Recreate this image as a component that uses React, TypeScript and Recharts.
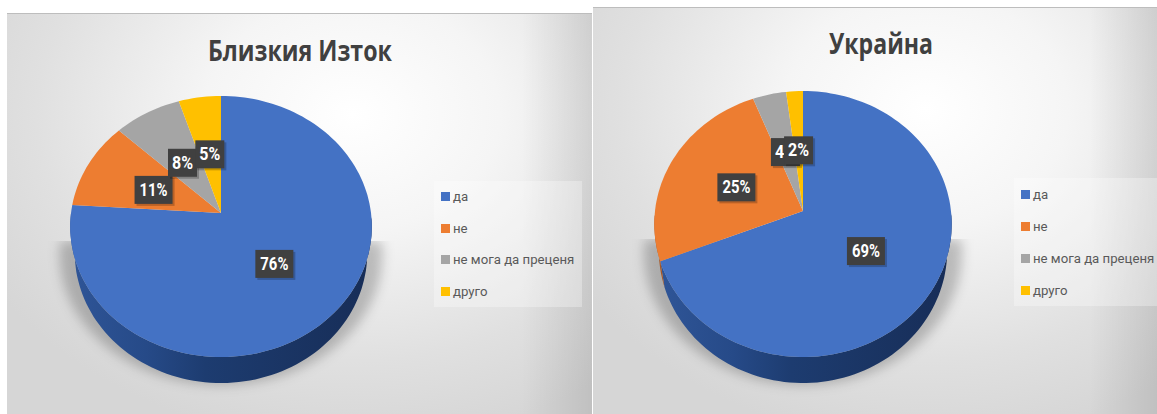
import { Legend, Pie, PieChart } from 'recharts';

const CATEGORIES = ['да', 'не', 'не мога да преценя', 'друго'];
const COLORS = ['#4472c4', '#ed7d31', '#a5a5a5', '#ffc000'];
const MIDDLE_EAST_TITLE = 'Близкия Изток';
const MIDDLE_EAST_VALUES = [76, 11, 8, 5];
const UKRAINE_TITLE = 'Украйна';
const UKRAINE_VALUES = [69, 25, 4, 2];

const TITLE_FONT = '"Open Sans", sans-serif';
const FONT = 'Roboto, sans-serif';
const RADIAN = Math.PI / 180;

type Tilt = { up: number; down: number };

// Perspective of a tilted disc: `up` and `down` are the distances from the
// apex to the far and near rim.
function projector(cx: number, cy: number, rx: number, tilt: Tilt) {
  const c = (tilt.down - tilt.up) / (tilt.down + tilt.up);
  const a = tilt.up * (1 + c);
  return (angle: number, r: number) => {
    const u = Math.cos(angle * RADIAN) * r;
    const v = Math.sin(angle * RADIAN) * r;
    const w = 1 + c * v;
    return { x: cx + (rx * u) / w, y: cy - (a * v) / w };
  };
}

function arcAngles(start: number, end: number) {
  const steps = Math.max(2, Math.ceil(Math.abs(end - start) / 2));
  return Array.from({ length: steps + 1 }, (_, i) => start + ((end - start) * i) / steps);
}

function toPath(points: { x: number; y: number }[]) {
  return points.map((p, i) => `${i ? 'L' : 'M'}${p.x.toFixed(1)} ${p.y.toFixed(1)}`).join('') + 'Z';
}

const DEPTH = 26;
const RIM_SHRINK = 0.97;

function makeShape(id: string, tilt: Tilt) {
  return function DiscSector(props: any) {
    const { cx, cy, outerRadius, startAngle, endAngle, fill, index } = props;
    const at = projector(cx, cy, outerRadius, tilt);
    const rim = arcAngles(startAngle, endAngle).map((angle) => at(angle, 1));
    // only the part of the rim on the near side has a visible wall
    const near = arcAngles(startAngle, endAngle).filter((angle) => Math.sin(angle * RADIAN) <= 0);
    const wallTop = near.map((angle) => at(angle, 1));
    const wallBottom = near.map((angle) => {
      const p = at(angle, 1);
      return { x: cx + (p.x - cx) * RIM_SHRINK, y: p.y + DEPTH };
    });
    const wall = [...wallTop, ...wallBottom.reverse()];
    const shadow = arcAngles(180, 360).map((angle) => {
      const p = at(angle, 1);
      return { x: cx + (p.x - cx) * 1.07, y: p.y + 28 };
    });
    return (
      <g>
        {index === 0 && (
          <>
            <defs>
              <linearGradient id={`${id}-wall`} x1="0" x2="1" y1="0" y2="0">
                <stop offset="0" stopColor="#2f5597" />
                <stop offset="0.25" stopColor="#264a88" />
                <stop offset="0.45" stopColor="#1d3c70" />
                <stop offset="1" stopColor="#172d57" />
              </linearGradient>
              <filter id={`${id}-blur`} x="-10%" y="0" width="120%" height="120%">
                <feGaussianBlur stdDeviation="6" />
              </filter>
            </defs>
            <path d={toPath(shadow)} fill="#000" fillOpacity={0.22} filter={`url(#${id}-blur)`} />
          </>
        )}
        {wall.length > 2 && <path d={toPath(wall)} fill={index === 0 ? `url(#${id}-wall)` : '#a85623'} />}
        <path d={toPath([at(0, 0), ...rim])} fill={fill} />
      </g>
    );
  };
}

function makeLabel(tilt: Tilt) {
  return function BoxLabel(props: any) {
    const { cx, cy, outerRadius, midAngle, value } = props;
    const p = projector(cx, cy, outerRadius, tilt)(midAngle, 0.5);
    const wide = value >= 10;
    const width = wide ? 38 : 29;
    const mid = p.y + 2;
    return (
      <g>
        <rect x={p.x - width / 2 + 2} y={mid - 12} width={width} height={28} fill="#000" fillOpacity={0.22} />
        <rect x={p.x - width / 2} y={mid - 14} width={width} height={28} fill="#404040" />
        <text
          x={p.x}
          y={mid + 6}
          textAnchor="middle"
          fill="#fff"
          fontFamily={FONT}
          fontSize={18}
          fontWeight={700}
          textLength={wide ? 28 : 21}
          lengthAdjust="spacingAndGlyphs"
        >
          {value}%
        </text>
      </g>
    );
  };
}

function LegendBox(props: any) {
  return (
    <div style={{ width: props.boxWidth, background: 'rgba(255,255,255,0.3)', fontFamily: FONT, fontSize: 13.2, color: '#595959' }}>
      {props.payload.map((entry: any) => (
        <div key={entry.value} style={{ height: props.rowHeight, display: 'flex', alignItems: 'center', paddingLeft: 7, whiteSpace: 'nowrap' }}>
          <span style={{ flex: 'none', width: 9, height: 9, marginRight: 3, background: entry.color }} />
          {entry.value}
        </div>
      ))}
    </div>
  );
}

type PanelProps = {
  id: string;
  title: string;
  values: number[];
  left: number;
  top: number;
  width: number;
  height: number;
  cx: number;
  cy: number;
  radius: number;
  tilt: Tilt;
  titleX: number;
  titleY: number;
  titleWidth: number;
  legendLeft: number;
  legendTop: number;
  legendWidth: number;
  legendRow: number;
};

function Panel(p: PanelProps) {
  const rows = CATEGORIES.map((name, i) => ({ name, value: p.values[i], fill: COLORS[i] }));
  return (
    <div
      style={{
        position: 'absolute',
        left: p.left,
        top: p.top,
        width: p.width,
        height: p.height,
        borderTop: '1px solid #bdbdbd',
        background:
          'linear-gradient(to right, rgba(0,0,0,0) 88%, rgba(0,0,0,0.1) 100%), radial-gradient(ellipse 72% 82% at 59% 25%, #ffffff 0%, #f5f5f5 35%, #e0e0e0 75%, #d6d6d6 100%)',
      }}
    >
      <PieChart width={p.width} height={p.height} margin={{ top: 0, right: 0, bottom: 0, left: 0 }}>
        <text
          x={p.titleX}
          y={p.titleY}
          textAnchor="middle"
          fill="#404040"
          fontFamily={TITLE_FONT}
          fontSize={29}
          fontWeight={700}
          textLength={p.titleWidth}
          lengthAdjust="spacingAndGlyphs"
        >
          {p.title}
        </text>
        <Pie
          data={rows}
          dataKey="value"
          nameKey="name"
          cx={p.cx}
          cy={p.cy}
          outerRadius={p.radius}
          startAngle={90}
          endAngle={-270}
          isAnimationActive={false}
          legendType="square"
          labelLine={false}
          label={makeLabel(p.tilt)}
          shape={makeShape(p.id, p.tilt)}
        />
        <Legend
          layout="vertical"
          itemSorter={null}
          content={<LegendBox boxWidth={p.legendWidth} rowHeight={p.legendRow} />}
          wrapperStyle={{ left: p.legendLeft, top: p.legendTop, width: p.legendWidth, bottom: 'auto', right: 'auto' }}
        />
      </PieChart>
    </div>
  );
}

export default function App() {
  return (
    <div style={{ position: 'fixed', left: 0, top: 0, width: 1157, height: 414, background: '#fff', overflow: 'hidden' }}>
      <Panel
        id="east"
        title={MIDDLE_EAST_TITLE}
        values={MIDDLE_EAST_VALUES}
        left={7}
        top={13}
        width={585}
        height={401}
        cx={214}
        cy={199}
        radius={150}
        tilt={{ up: 117, down: 144 }}
        titleX={293}
        titleY={47}
        titleWidth={184}
        legendLeft={427}
        legendTop={167}
        legendWidth={148}
        legendRow={31.5}
      />
      <Panel
        id="ukraine"
        title={UKRAINE_TITLE}
        values={UKRAINE_VALUES}
        left={593}
        top={7}
        width={564}
        height={407}
        cx={210}
        cy={203}
        radius={148}
        tilt={{ up: 120, down: 146 }}
        titleX={288}
        titleY={46}
        titleWidth={104}
        legendLeft={421}
        legendTop={170}
        legendWidth={143}
        legendRow={32}
      />
    </div>
  );
}
